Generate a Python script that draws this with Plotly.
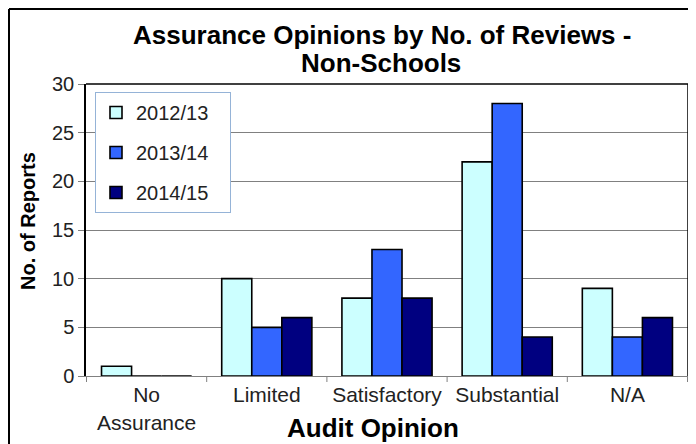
import plotly.graph_objects as go

categories = ["No<br>Assurance", "Limited", "Satisfactory", "Substantial", "N/A"]
series_names = ["2012/13", "2013/14", "2014/15"]
v_2012 = [1, 10, 8, 22, 9]
v_2013 = [0, 5, 13, 28, 4]
v_2014 = [0, 6, 8, 4, 6]
colors = ["#CCFFFF", "#3366FF", "#000080"]
y_ticks = [0, 5, 10, 15, 20, 25, 30]

FONT = "Liberation Sans, Arial, sans-serif"
OFF = 8  # page body offset
W, H = 696, 444
# plot area in page pixels: left 86, right 688, top 84, bottom 376
L, T = 86 - OFF, 84 - OFF
R = W - (688 - OFF)
B = H - (376 - OFF)
pw, ph = W - L - R, H - T - B

def px(x_page):
    return (x_page - OFF - L) / pw

def py(y_page):
    return 1 - (y_page - OFF - T) / ph

fig = go.Figure()
for name, vals, col in zip(series_names, [v_2012, v_2013, v_2014], colors):
    fig.add_trace(go.Bar(
        x=categories, y=vals, name=name + "\u00a0\u00a0\u00a0", legendgroup=name,
        marker=dict(color=col, line=dict(color="black", width=1.6)),
    ))

fig.update_layout(
    width=W, height=H,
    margin=dict(l=L, r=R, t=T, b=B),
    paper_bgcolor="white", plot_bgcolor="white",
    barmode="group", bargap=0.25, bargroupgap=0,
    font=dict(family=FONT, size=20, color="black"),
    showlegend=True,
    legend=dict(
        x=px(95), y=py(92), xanchor="left", yanchor="top",
        bordercolor="#95B3D7", borderwidth=1, bgcolor="white",
        font=dict(size=20, color="#222222"), itemwidth=30, tracegroupgap=11,
        traceorder="grouped",
    ),
    xaxis=dict(
        showline=True, linecolor="#808080", linewidth=1, mirror=False,
        ticks="", tickfont=dict(size=21, color="#222222"),
    ),
    yaxis=dict(
        range=[0, 30], tickvals=y_ticks, showgrid=True, gridcolor="#808080", gridwidth=1,
        showline=True, linecolor="black", linewidth=1.5, mirror=False,
        ticks="outside", ticklen=6, tickcolor="#808080", tickfont=dict(size=20, color="#222222"),
        zeroline=False,
    ),
)

# titles as annotations for precise placement
fig.add_annotation(text="<b>Assurance Opinions by No. of Reviews -</b>", xref="paper", yref="paper",
                   x=px(382), y=py(35), xanchor="center", yanchor="middle", showarrow=False,
                   font=dict(size=26, color="black"))
fig.add_annotation(text="<b>Non-Schools</b>", xref="paper", yref="paper",
                   x=px(381), y=py(63), xanchor="center", yanchor="middle", showarrow=False,
                   font=dict(size=26, color="black"))
fig.add_annotation(text="<b>Audit Opinion</b>", xref="paper", yref="paper",
                   x=px(373), y=py(428), xanchor="center", yanchor="middle", showarrow=False,
                   font=dict(size=26, color="black"))
fig.add_annotation(text="<b>No. of Reports</b>", xref="paper", yref="paper",
                   x=px(28), y=py(221), xanchor="center", yanchor="middle", showarrow=False,
                   textangle=-90, font=dict(size=20, color="black"))

# category boundary tick marks on x axis
for i in range(len(categories) + 1):
    fig.add_shape(type="line", xref="x", yref="paper",
                  x0=i - 0.5, x1=i - 0.5, y0=0, y1=-6 / ph,
                  line=dict(color="#808080", width=1))

# plot-area frame (top and right)
fig.add_shape(type="line", xref="paper", yref="paper", x0=0, x1=1, y0=1, y1=1,
              line=dict(color="black", width=1.5))
fig.add_shape(type="line", xref="paper", yref="paper", x0=1, x1=1, y0=0, y1=1,
              line=dict(color="black", width=1.5))

# outer chart frame (left and top visible)
fx = (1 - L) / pw
fy = 1 + (T - 1) / ph
fig.add_shape(type="line", xref="paper", yref="paper",
              x0=fx, x1=fx, y0=-(B + 10) / ph, y1=fy,
              line=dict(color="black", width=2))
fig.add_shape(type="line", xref="paper", yref="paper",
              x0=fx, x1=(W + 10 - L) / pw, y0=fy, y1=fy,
              line=dict(color="black", width=2))

fig.write_html("out.html")
